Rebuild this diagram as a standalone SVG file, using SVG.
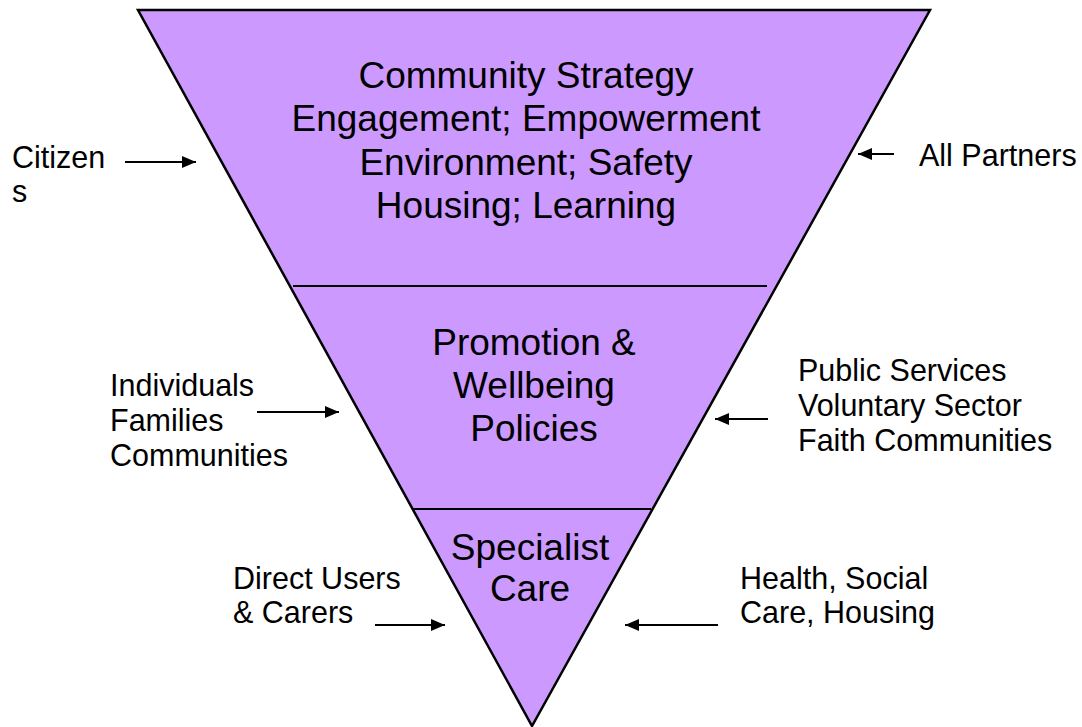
<svg xmlns="http://www.w3.org/2000/svg" width="1082" height="727" viewBox="0 0 1082 727">
<defs>
<style>
.t{font-family:"Liberation Sans",Arial,sans-serif;fill:#000}
.big{font-size:37px}
.sm{font-size:30.5px}
.ln{stroke:#000;stroke-width:2;fill:none}
.ar{stroke:#000;stroke-width:2;fill:none;marker-end:url(#ah)}
</style>
<marker id="ah" viewBox="0 0 14 12" refX="14" refY="6" markerWidth="14" markerHeight="12" markerUnits="userSpaceOnUse" orient="auto">
<path d="M0,0 L14,6 L0,12 z" fill="#000"/>
</marker>
</defs>
<g id="pyramid">
<polygon points="138,10 930,10 532,726" fill="#CC99FF" stroke="#000" stroke-width="2.5" stroke-linejoin="miter"/>
<line class="ln" x1="293" y1="286" x2="767" y2="286"/>
<line class="ln" x1="412" y1="509" x2="651" y2="509"/>
</g>
<g id="tier-top">
<text class="t big" text-anchor="middle" x="526" y="88">Community Strategy</text>
<text class="t big" text-anchor="middle" x="526" y="131">Engagement; Empowerment</text>
<text class="t big" text-anchor="middle" x="526" y="175">Environment; Safety</text>
<text class="t big" text-anchor="middle" x="526" y="218">Housing; Learning</text>
</g>
<g id="tier-middle">
<text class="t big" text-anchor="middle" x="534" y="355">Promotion &amp;</text>
<text class="t big" text-anchor="middle" x="534" y="398">Wellbeing</text>
<text class="t big" text-anchor="middle" x="534" y="441">Policies</text>
</g>
<g id="tier-bottom">
<text class="t big" text-anchor="middle" x="530" y="560">Specialist</text>
<text class="t big" text-anchor="middle" x="530" y="601">Care</text>
</g>
<g id="citizens">
<text class="t sm" x="12" y="168">Citizen</text>
<text class="t sm" x="12" y="202">s</text>
</g>
<g id="all-partners">
<text class="t sm" x="919" y="166">All Partners</text>
</g>
<g id="individuals">
<text class="t sm" x="110" y="396">Individuals</text>
<text class="t sm" x="110" y="431">Families</text>
<text class="t sm" x="110" y="466">Communities</text>
</g>
<g id="public-services">
<text class="t sm" x="798" y="381">Public Services</text>
<text class="t sm" x="798" y="416">Voluntary Sector</text>
<text class="t sm" x="798" y="451">Faith Communities</text>
</g>
<g id="direct-users">
<text class="t sm" x="233" y="589">Direct Users</text>
<text class="t sm" x="233" y="623">&amp; Carers</text>
</g>
<g id="health">
<text class="t sm" x="740" y="589">Health, Social</text>
<text class="t sm" x="740" y="623">Care, Housing</text>
</g>
<g id="connectors">
<line class="ar" x1="125" y1="162" x2="196" y2="162"/>
<line class="ar" x1="894" y1="154" x2="858" y2="154"/>
<line class="ar" x1="257" y1="412" x2="339" y2="412"/>
<line class="ar" x1="768" y1="419" x2="715" y2="419"/>
<line class="ar" x1="375" y1="625" x2="445" y2="625"/>
<line class="ar" x1="718" y1="625" x2="625" y2="625"/>
</g>
</svg>
